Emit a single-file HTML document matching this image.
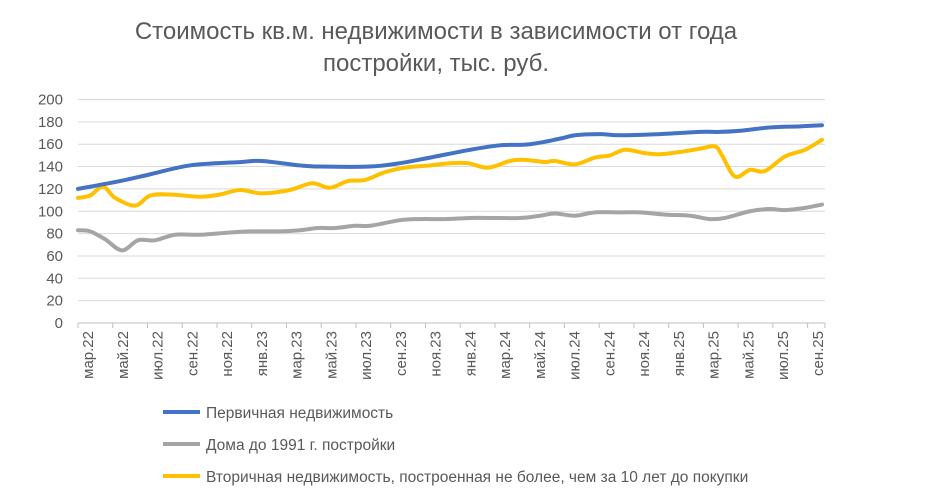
<!DOCTYPE html><html><head><meta charset="utf-8"><style>body{margin:0;background:#fff}svg{display:block}text{font-family:"Liberation Sans",sans-serif}</style></head><body>
<svg id="s" width="930" height="496" xmlns="http://www.w3.org/2000/svg">
<text x="436" y="39" font-size="24" fill="#595959" text-anchor="middle">Стоимость кв.м. недвижимости в зависимости от года</text>
<text x="436" y="71" font-size="24" fill="#595959" text-anchor="middle">постройки, тыс. руб.</text>
<g id="grid" stroke="#d9d9d9" stroke-width="1"></g>
<g id="yl" font-size="15" fill="#595959" text-anchor="end"></g>
<g id="xl" font-size="15" fill="#595959"></g>
<g id="ser" fill="none" stroke-width="4" stroke-linecap="round" stroke-linejoin="round"></g>
<line x1="163" y1="412" x2="200" y2="412" stroke="#4472c4" stroke-width="4"/>
<text x="206" y="418" font-size="15.5" fill="#595959">Первичная недвижимость</text>
<line x1="163" y1="444" x2="200" y2="444" stroke="#a5a5a5" stroke-width="4"/>
<text x="206" y="450" font-size="15.5" fill="#595959">Дома до 1991 г. постройки</text>
<line x1="163" y1="476" x2="200" y2="476" stroke="#ffc000" stroke-width="4"/>
<text x="206" y="482" font-size="15.5" fill="#595959">Вторичная недвижимость, построенная не более, чем за 10 лет до покупки</text>
</svg>
<script>
const NS="http://www.w3.org/2000/svg";
function el(p,t,a,txt){const e=document.createElementNS(NS,t);for(const k in a)e.setAttribute(k,a[k]);if(txt)e.textContent=txt;document.getElementById(p).appendChild(e);}
const Y=v=>323-v*223.5/200;
for(let v=0;v<=200;v+=20){if(v>0)el("grid","line",{x1:78,x2:825,y1:Y(v),y2:Y(v)});el("yl","text",{x:63,y:Y(v)+5},String(v));}
el("grid","line",{x1:78,x2:825,y1:323,y2:323,stroke:"#bfbfbf"});
const labs=["мар.22","май.22","июл.22","сен.22","ноя.22","янв.23","мар.23","май.23","июл.23","сен.23","ноя.23","янв.24","мар.24","май.24","июл.24","сен.24","ноя.24","янв.25","мар.25","май.25","июл.25","сен.25"];
const sp=(818-88)/21;
for(let i=0;i<=21;i++){const x=78+i*(747/21.5);el("grid","line",{x1:x,x2:x,y1:323,y2:328,stroke:"#bfbfbf"});}
el("grid","line",{x1:825,x2:825,y1:323,y2:328,stroke:"#bfbfbf"});
labs.forEach((l,i)=>{const x=88+i*sp+5;el("xl","text",{x:x,y:331,transform:`rotate(-90 ${x} 331)`,"text-anchor":"end"},l);});
function path(pts,c){pts=pts.map(p=>[p[0],Y(p[1])]);let d="M"+pts[0];for(let i=0;i<pts.length-1;i++){const p0=pts[i-1]||pts[i],p1=pts[i],p2=pts[i+1],p3=pts[i+2]||p2;const c1=[p1[0]+(p2[0]-p0[0])/6,p1[1]+(p2[1]-p0[1])/6],c2=[p2[0]-(p3[0]-p1[0])/6,p2[1]-(p3[1]-p1[1])/6];d+=`C${c1} ${c2} ${p2}`;}el("ser","path",{d:d,stroke:c});}
path([[78,83],[90,82],[105,75],[122,65],[138,74],[155,74],[175,79],[200,79],[230,81],[250,82],[280,82],[300,83],[318,85],[335,85],[355,87],[370,87],[400,92],[420,93],[445,93],[470,94],[490,94],[520,94],[540,96],[555,98],[575,96],[595,99],[620,99],[640,99],[665,97],[690,96],[710,93],[725,94],[750,100],[770,102],[785,101],[805,103],[822,106]],"#a5a5a5");
path([[78,112],[90,114],[103,122],[115,112],[135,105],[150,114],[170,115],[200,113],[220,115],[240,119],[262,116],[290,119],[312,125],[330,121],[348,127],[365,128],[385,135],[405,139],[430,141],[450,143],[468,143],[488,139],[510,145],[525,146],[545,144],[555,145],[575,142],[595,148],[610,150],[625,155],[645,152],[660,151],[680,153],[700,156],[715,158],[722,150],[735,131],[750,137],[765,136],[785,149],[805,155],[822,164]],"#ffc000");
path([[78,120],[120,127],[150,133],[190,141],[240,144],[262,145],[300,141],[320,140],[370,140],[400,143],[430,148],[470,155],[500,159],[530,160],[560,165],[575,168],[600,169],[620,168],[660,169],[700,171],[720,171],[740,172],[770,175],[800,176],[822,177]],"#4472c4");
</script></body></html>
